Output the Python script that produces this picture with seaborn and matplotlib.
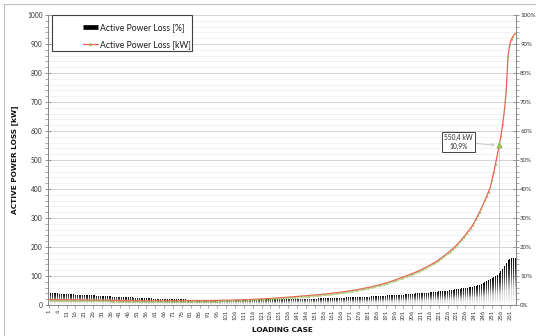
import numpy as np
import pandas as pd
import seaborn as sns
import matplotlib
matplotlib.use("Agg")
import matplotlib.pyplot as plt
from matplotlib.colors import LinearSegmentedColormap
from matplotlib.lines import Line2D
from matplotlib.patches import Rectangle
from matplotlib.ticker import MultipleLocator

# Active power loss per loading case [kW]
loss_kw = [
    19.0, 18.9, 18.8, 18.7, 18.6, 18.5, 18.4, 18.3, 18.2, 18.1,
    18.0, 17.9, 17.8, 17.7, 17.6, 17.5, 17.4, 17.3, 17.2, 17.1,
    17.0, 16.9, 16.8, 16.7, 16.6, 16.5, 16.4, 16.3, 16.2, 16.1,
    16.0, 15.9, 15.8, 15.7, 15.6, 15.5, 15.5, 15.4, 15.3, 15.2,
    15.2, 15.1, 15.0, 15.0, 14.9, 14.8, 14.8, 14.7, 14.7, 14.6,
    14.6, 14.5, 14.5, 14.4, 14.4, 14.3, 14.3, 14.3, 14.2, 14.2,
    14.2, 14.1, 14.1, 14.1, 14.1, 14.0, 14.0, 14.0, 14.0, 14.0,
    14.0, 14.0, 14.0, 14.0, 14.0, 14.0, 14.1, 14.1, 14.1, 14.2,
    14.2, 14.3, 14.3, 14.4, 14.5, 14.5, 14.6, 14.7, 14.8, 14.9,
    14.9, 15.0, 15.1, 15.2, 15.3, 15.4, 15.5, 15.6, 15.8, 15.9,
    16.1, 16.2, 16.4, 16.6, 16.8, 17.0, 17.2, 17.4, 17.6, 17.8,
    18.0, 18.3, 18.5, 18.8, 19.0, 19.3, 19.6, 19.9, 20.2, 20.5,
    20.8, 21.1, 21.4, 21.8, 22.1, 22.5, 22.9, 23.3, 23.7, 24.1,
    24.5, 25.0, 25.4, 25.9, 26.3, 26.8, 27.3, 27.8, 28.3, 28.8,
    29.2, 29.7, 30.1, 30.6, 31.0, 31.5, 32.0, 32.5, 33.0, 33.5,
    34.1, 34.6, 35.2, 35.8, 36.4, 37.0, 37.7, 38.3, 39.0, 39.6,
    40.4, 41.1, 41.9, 42.7, 43.5, 44.3, 45.2, 46.0, 46.9, 47.8,
    48.8, 49.8, 50.9, 51.9, 53.0, 54.1, 55.2, 56.4, 57.6, 58.8,
    60.2, 61.5, 62.9, 64.4, 65.8, 67.4, 68.9, 70.5, 72.1, 73.8,
    75.6, 77.5, 79.4, 81.4, 83.5, 85.6, 87.7, 89.9, 92.2, 94.5,
    96.7, 98.9, 101.2, 103.5, 105.9, 108.3, 110.8, 113.4, 116.0, 118.7,
    121.7, 124.7, 127.8, 131.0, 134.3, 137.7, 141.1, 144.6, 148.3, 152.0,
    156.2, 160.6, 165.1, 169.7, 174.5, 179.3, 184.4, 189.5, 194.8, 200.3,
    206.7, 213.3, 220.1, 227.2, 234.4, 241.9, 249.7, 257.7, 265.9, 274.4,
    285.4, 296.8, 308.7, 321.0, 333.8, 347.2, 361.1, 375.5, 390.5, 406.1,
    431.7, 458.9, 487.8, 518.5, 550.4, 583.0, 624.0, 672.0, 739.0, 859.0,
    899.0, 917.0, 928.0, 937.0,
]

# Active power loss per loading case [%]
loss_pct = [
    4.1, 4.1, 4.1, 4.0, 4.0, 4.0, 3.9, 3.9, 3.9, 3.8,
    3.8, 3.8, 3.7, 3.7, 3.7, 3.6, 3.6, 3.6, 3.5, 3.5,
    3.5, 3.4, 3.4, 3.4, 3.3, 3.3, 3.3, 3.2, 3.2, 3.2,
    3.1, 3.1, 3.1, 3.0, 3.0, 3.0, 2.9, 2.9, 2.9, 2.8,
    2.8, 2.8, 2.7, 2.7, 2.7, 2.6, 2.6, 2.6, 2.5, 2.5,
    2.5, 2.5, 2.4, 2.4, 2.4, 2.3, 2.3, 2.3, 2.3, 2.2,
    2.2, 2.2, 2.2, 2.1, 2.1, 2.1, 2.1, 2.0, 2.0, 2.0,
    2.0, 2.0, 1.9, 1.9, 1.9, 1.9, 1.9, 1.9, 1.8, 1.8,
    1.8, 1.8, 1.8, 1.8, 1.8, 1.8, 1.8, 1.8, 1.8, 1.8,
    1.8, 1.8, 1.8, 1.8, 1.8, 1.8, 1.8, 1.8, 1.8, 1.8,
    1.8, 1.8, 1.8, 1.8, 1.8, 1.8, 1.8, 1.8, 1.8, 1.8,
    1.8, 1.8, 1.8, 1.8, 1.9, 1.9, 1.9, 1.9, 1.9, 1.9,
    1.9, 1.9, 1.9, 1.9, 1.9, 2.0, 2.0, 2.0, 2.0, 2.0,
    2.0, 2.0, 2.0, 2.0, 2.0, 2.1, 2.1, 2.1, 2.1, 2.1,
    2.1, 2.1, 2.1, 2.1, 2.1, 2.2, 2.2, 2.2, 2.2, 2.2,
    2.2, 2.2, 2.3, 2.3, 2.3, 2.3, 2.3, 2.3, 2.4, 2.4,
    2.4, 2.4, 2.4, 2.5, 2.5, 2.5, 2.5, 2.5, 2.6, 2.6,
    2.6, 2.6, 2.7, 2.7, 2.7, 2.7, 2.8, 2.8, 2.8, 2.9,
    2.9, 2.9, 3.0, 3.0, 3.0, 3.1, 3.1, 3.1, 3.2, 3.2,
    3.2, 3.3, 3.3, 3.3, 3.4, 3.4, 3.5, 3.5, 3.5, 3.6,
    3.6, 3.7, 3.7, 3.8, 3.8, 3.9, 3.9, 4.0, 4.0, 4.1,
    4.1, 4.2, 4.2, 4.3, 4.3, 4.4, 4.5, 4.5, 4.6, 4.6,
    4.7, 4.8, 4.8, 4.9, 5.0, 5.0, 5.1, 5.2, 5.3, 5.4,
    5.4, 5.5, 5.6, 5.7, 5.8, 5.9, 6.0, 6.1, 6.2, 6.3,
    6.4, 6.6, 6.8, 7.0, 7.2, 7.5, 7.8, 8.2, 8.6, 9.0,
    9.4, 9.8, 10.1, 10.5, 10.9, 11.6, 12.5, 13.6, 14.6, 15.4,
    15.9, 16.1, 16.2, 16.3,
]

cases = list(range(1, len(loss_kw) + 1))
highlight_case = 255

kw_max = 1000
pct_max = 100

df = pd.DataFrame({"case": cases, "pct": loss_pct, "kw": loss_kw})
df["pos"] = np.arange(len(df))

sns.set_theme(style="white")
plt.rcParams["font.family"] = ["Lato", "DejaVu Sans"]
title_font = dict(family="DejaVu Sans", weight="bold", size=5.3, color="#111111")

W, H = 536, 336
fig = plt.figure(figsize=(W / 100, H / 100), dpi=100)
fig.patch.set_facecolor("white")

# chart-area border (left and top edges)
fig.add_artist(Line2D([4 / W, 4 / W], [0, 1 - 4 / H], transform=fig.transFigure,
                      color="#BFBFBF", lw=0.8))
fig.add_artist(Line2D([4 / W, 1], [1 - 4 / H, 1 - 4 / H], transform=fig.transFigure,
                      color="#BFBFBF", lw=0.8))

ax = fig.add_axes([48 / W, 31 / H, 468 / W, 290 / H])

# percentage bars (secondary scale, drawn underneath)
sns.barplot(data=df, x="case", y="pct", ax=ax, color="black", width=0.55,
            saturation=1, linewidth=0)

grad_cmap = LinearSegmentedColormap.from_list(
    "bar_grad", [(0.0, "#FFFFFF"), (0.35, "#D0D0D0"), (0.7, "#404040"), (1.0, "#000000")])
grad = np.linspace(1, 0, 128).reshape(-1, 1)
for p in list(ax.patches):
    x0, y0 = p.get_x(), p.get_y()
    w, h = p.get_width(), p.get_height()
    p.set_facecolor("none")
    p.set_edgecolor("none")
    im = ax.imshow(grad, cmap=grad_cmap, vmin=0, vmax=1, origin="upper",
                   extent=(x0, x0 + w, y0, y0 + h), aspect="auto",
                   interpolation="bilinear", zorder=2)
    im.set_clip_path(p)

ax.set_xlim(-0.5, len(cases) - 0.5)
ax.set_ylim(0, pct_max)
ax.set_aspect("auto")

# drop line from the highlighted point
hi = cases.index(highlight_case)
ax.vlines(hi, 0, loss_kw[hi] * pct_max / kw_max, color="#C8C8C8", lw=0.6, zorder=1.5)

# kW line (primary scale, drawn on top)
ax2 = ax.twinx()
line_red = "#F55A5A"
mark_green = "#9BBB59"
sns.lineplot(data=df, x="pos", y="kw", ax=ax2, color=line_red, lw=0.9,
             marker="^", markersize=1.6, markerfacecolor=mark_green,
             markeredgewidth=0, zorder=3)
ax2.plot(df["pos"][hi], df["kw"][hi], marker="^", ms=3.4, color=mark_green,
         mec=mark_green, zorder=4)
ax2.set_xlim(-0.5, len(cases) - 0.5)
ax2.set_ylim(0, kw_max)

# % axis on the right, kW axis on the left
ax.yaxis.set_ticks_position("right")
ax.yaxis.set_label_position("right")
ax2.yaxis.set_ticks_position("left")
ax2.yaxis.set_label_position("left")

# gridlines on the bar axes
ax.yaxis.set_major_locator(MultipleLocator(10))
ax.yaxis.set_minor_locator(MultipleLocator(2))
ax.set_axisbelow(True)
ax.grid(which="major", axis="y", color="#D4D4D4", lw=0.7)
ax.grid(which="minor", axis="y", color="#EDEDED", lw=0.5)
ax.grid(which="major", axis="x", visible=False)

ax.set_yticks(np.arange(0, pct_max + 1, 10))
ax.set_yticklabels([f"{v}%" for v in range(0, pct_max + 1, 10)])
ax.tick_params(axis="y", which="major", direction="inout", length=4, width=0.6,
               color="#868686", labelsize=4.4, labelcolor="#333333", pad=1.0,
               right=True, left=False, labelright=True, labelleft=False)
ax.tick_params(axis="y", which="minor", direction="out", length=2, width=0.5,
               color="#868686", right=True, left=False)

tick_pos = list(range(0, len(cases), 5))
ax.set_xticks(tick_pos)
ax.set_xticklabels([str(cases[i]) for i in tick_pos], rotation=90)
ax.tick_params(axis="x", which="major", direction="out", length=2, width=0.5,
               color="#868686", labelsize=4.2, labelcolor="#333333", pad=1.5,
               bottom=True)
ax.set_xlabel("LOADING CASE", fontdict=title_font)
ax.xaxis.set_label_coords(0.5, -0.076)
ax.set_ylabel("")

for s in ["top", "left"]:
    ax.spines[s].set_visible(False)
for s in ["right", "bottom"]:
    ax.spines[s].set_color("#868686")
    ax.spines[s].set_linewidth(0.7)

ax2.yaxis.set_major_locator(MultipleLocator(100))
ax2.yaxis.set_minor_locator(MultipleLocator(20))
ax2.tick_params(axis="y", which="major", direction="inout", length=4, width=0.6,
                color="#868686", labelsize=4.8, labelcolor="#333333", pad=2,
                left=True, right=False, labelleft=True, labelright=False)
ax2.tick_params(axis="y", which="minor", direction="out", length=2, width=0.5,
                color="#868686", left=True, right=False)
ax2.set_ylabel("ACTIVE POWER LOSS [kW]", fontdict=title_font)
ax2.yaxis.set_label_coords(-0.064, 0.5)
ax2.set_xlabel("")
ax2.grid(False)
for s in ["top", "right", "bottom"]:
    ax2.spines[s].set_visible(False)
ax2.spines["left"].set_color("#868686")
ax2.spines["left"].set_linewidth(0.7)

# value callout
label = f"{loss_kw[hi]:.1f} kW\n{loss_pct[hi]:.1f}%".replace(".", ",")
ax2.annotate(label, xy=(hi, loss_kw[hi]), xytext=(231, 562), textcoords="data",
             ha="center", va="center", fontsize=4.8, color="#262626",
             linespacing=1.3,
             bbox=dict(boxstyle="square,pad=0.35", fc="white", ec="#404040", lw=0.7),
             arrowprops=dict(arrowstyle="->", color="#BFBFBF", lw=0.6,
                             shrinkA=0, shrinkB=3),
             zorder=5)

# legend with framed box
handles = [
    Line2D([], [], color="black", lw=3.4, solid_capstyle="butt"),
    Line2D([], [], color=line_red, lw=0.9, marker="^", ms=2.4,
           markerfacecolor=mark_green, markeredgewidth=0),
]
labels = ["Active Power Loss [%]", "Active Power Loss [kW]"]
fig.legend(handles, labels, loc="upper left", bbox_to_anchor=(79 / W, 1 - 19 / H),
           bbox_transform=fig.transFigure, frameon=False, borderpad=0,
           fontsize=6.2, handlelength=1.65, handletextpad=0.25, labelspacing=0.95,
           labelcolor="#1A1A1A")
frame = Rectangle((52 / W, 1 - 51 / H), 140 / W, 36 / H,
                  transform=fig.transFigure, fill=True, fc="white",
                  ec="#404040", lw=0.8)
fig.add_artist(frame)
frame.set_zorder(2.5)

fig.savefig("out.png", dpi=100)
